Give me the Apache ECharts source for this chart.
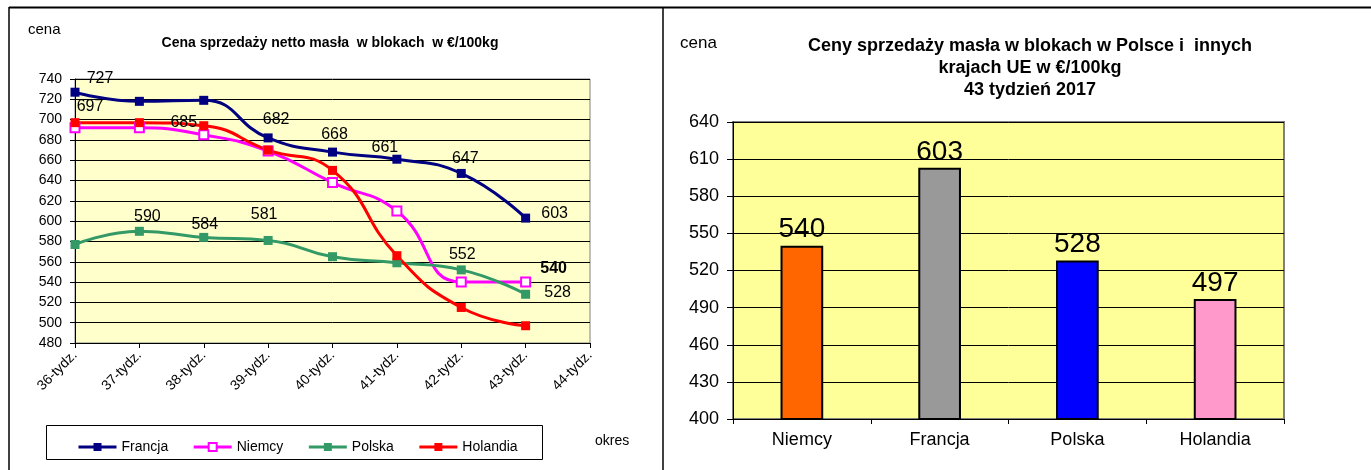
<!DOCTYPE html>
<html>
<head>
<meta charset="utf-8">
<script src="https://cdn.jsdelivr.net/npm/echarts@6/dist/echarts.min.js"></script>
<style>
	html, body { margin: 0; padding: 0; background: #fff; }
	#main { width: 1371px; height: 470px; }
</style>
</head>
<body>
<div id="main"></div>
<script>
	// tygodnie (wykres liniowy)
	var weeks = ['36-tydz.', '37-tydz.', '38-tydz.', '39-tydz.', '40-tydz.', '41-tydz.', '42-tydz.', '43-tydz.', '44-tydz.']
	var francja = [727, 718, 719, 682, 668, 661, 647, 603]
	var niemcy = [692, 692, 685, 669, 638, 610, 540, 540]
	var polska = [577, 590, 584, 581, 565, 559, 552, 528]
	var holandia = [697, 697, 694, 670, 650, 566, 515, 497]
	var lineTicks = { min: 480, max: 740, interval: 20 }

	// 43 tydzien 2017 (wykres slupkowy)
	var countries = ['Niemcy', 'Francja', 'Polska', 'Holandia']
	var week43 = [540, 603, 528, 497]
	var barTicks = { min: 400, max: 640, interval: 30 }

	var FONT = "'Liberation Sans', Arial, sans-serif"

	// which points get a label, and where (offset from the point)
	function withLabels(values, marks, boldIdx) {
		return values.map(function (v, i) {
			var m = marks[i]
			if (!m) return v
			return {
				value: v,
				label: {
					show: true,
					position: 'inside',
					offset: m,
					color: '#000',
					fontSize: 16,
					fontFamily: FONT,
					fontWeight: i === boldIdx ? 'bold' : 'normal'
				}
			}
		})
	}

	function lineSeries(name, color, data, hollow) {
		return {
			name: name,
			type: 'line',
			xAxisIndex: 0,
			yAxisIndex: 0,
			smooth: true,
			symbol: 'rect',
			symbolSize: 9,
			lineStyle: { color: color, width: 3 },
			itemStyle: hollow ? { color: '#fff', borderColor: color, borderWidth: 2 } : { color: color },
			label: { show: false },
			data: data
		}
	}

	var myChart = echarts.init(document.getElementById('main'))

	var option = {
		animation: false,
		backgroundColor: '#fff',
		textStyle: { fontFamily: FONT },
		title: [
			{
				text: 'Cena sprzedaży netto masła  w blokach  w €/100kg',
				left: 325, top: 31, textAlign: 'center',
				textStyle: { fontSize: 14, fontWeight: 'bold', color: '#000', fontFamily: FONT }
			},
			{
				text: 'Ceny sprzedaży masła w blokach w Polsce i  innych\nkrajach UE w €/100kg\n43 tydzień 2017',
				left: 1025, top: 30, textAlign: 'center',
				textStyle: { fontSize: 18, fontWeight: 'bold', color: '#000', lineHeight: 22, fontFamily: FONT }
			}
		],
		legend: {
			data: ['Francja', 'Niemcy', 'Polska', 'Holandia'],
			left: 72, top: 435,
			itemWidth: 38, itemHeight: 10, itemGap: 24,
			lineStyle: { width: 3 },
			textStyle: { fontSize: 14, color: '#000', fontFamily: FONT }
		},
		grid: [
			{ left: 75, width: 515, top: 79, height: 264, show: true, backgroundColor: '#FFFFCC', borderColor: '#808080', borderWidth: 1 },
			{ left: 733, width: 551, top: 122, height: 297, show: true, backgroundColor: '#FFFF99', borderColor: '#808080', borderWidth: 2 }
		],
		xAxis: [
			{
				gridIndex: 0, type: 'category', data: weeks, boundaryGap: false,
				axisLine: { lineStyle: { color: '#000' } },
				axisTick: { show: true, length: 5, lineStyle: { color: '#000' } },
				axisLabel: { rotate: 45, margin: 10, fontSize: 14, color: '#000', fontFamily: FONT, interval: 0 },
				splitLine: { show: false }
			},
			{
				gridIndex: 1, type: 'category', data: countries,
				axisLine: { lineStyle: { color: '#000' } },
				axisTick: { show: true, length: 5, lineStyle: { color: '#000' } },
				axisLabel: { margin: 12, fontSize: 18, color: '#000', fontFamily: FONT },
				splitLine: { show: false }
			}
		],
		yAxis: [
			{
				gridIndex: 0, type: 'value', min: lineTicks.min, max: lineTicks.max, interval: lineTicks.interval,
				axisLine: { show: true, lineStyle: { color: '#000' } },
				axisTick: { show: true, length: 5, lineStyle: { color: '#000' } },
				axisLabel: { margin: 13, fontSize: 14, color: '#000', fontFamily: FONT },
				splitLine: { show: true, lineStyle: { color: '#000', width: 1 } }
			},
			{
				gridIndex: 1, type: 'value', min: barTicks.min, max: barTicks.max, interval: barTicks.interval,
				axisLine: { show: true, lineStyle: { color: '#000' } },
				axisTick: { show: true, length: 6, lineStyle: { color: '#000' } },
				axisLabel: { margin: 14, fontSize: 18, color: '#000', fontFamily: FONT },
				splitLine: { show: true, lineStyle: { color: '#000', width: 1 } }
			}
		],
		graphic: [
			// ramki
			{ type: 'line', shape: { x1: 9, y1: 7.5, x2: 1371, y2: 7.5 }, style: { stroke: '#000', lineWidth: 2 }, z: 100 },
			{ type: 'line', shape: { x1: 9, y1: 7, x2: 9, y2: 470 }, style: { stroke: '#000', lineWidth: 1.5 }, z: 100 },
			{ type: 'line', shape: { x1: 663, y1: 7, x2: 663, y2: 470 }, style: { stroke: '#000', lineWidth: 1.5 }, z: 100 },
			// ramka legendy
			{ type: 'rect', shape: { x: 46.5, y: 425.5, width: 496, height: 34 }, style: { fill: 'none', stroke: '#000', lineWidth: 1 }, z: 1 },
			{ type: 'text', left: 28, top: 22, style: { text: 'cena', fill: '#000', font: '15px ' + FONT } },
			{ type: 'text', left: 595, top: 434, style: { text: 'okres', fill: '#000', font: '14px ' + FONT } },
			{ type: 'text', left: 680, top: 35, style: { text: 'cena', fill: '#000', font: '17px ' + FONT } }
		],
		series: [
			lineSeries('Francja', '#000080', withLabels(francja, { 0: [25, -14], 3: [8, -18], 4: [2, -18], 5: [-12, -12], 6: [4, -15], 7: [29, -5] })),
			lineSeries('Niemcy', '#FF00FF', withLabels(niemcy, { 2: [-20, -12], 7: [28, -13] }, 7), true),
			lineSeries('Polska', '#339966', withLabels(polska, { 1: [8, -15], 2: [1, -13], 3: [-4, -26], 6: [1, -15], 7: [32, -2] })),
			lineSeries('Holandia', '#FF0000', withLabels(holandia, { 0: [15, -16] })),
			{
				name: '43 tydzień 2017',
				type: 'bar',
				xAxisIndex: 1,
				yAxisIndex: 1,
				barWidth: '31%',
				data: week43.map(function (v, i) {
					return { value: v, itemStyle: { color: ['#FF6600', '#999999', '#0000FF', '#FF99CC'][i] } }
				}),
				itemStyle: { borderColor: '#000', borderWidth: 2 },
				label: { show: true, position: 'top', distance: 2, fontSize: 28, color: '#000', fontFamily: FONT }
			}
		]
	}

	myChart.setOption(option, true)
</script>
</body>
</html>
